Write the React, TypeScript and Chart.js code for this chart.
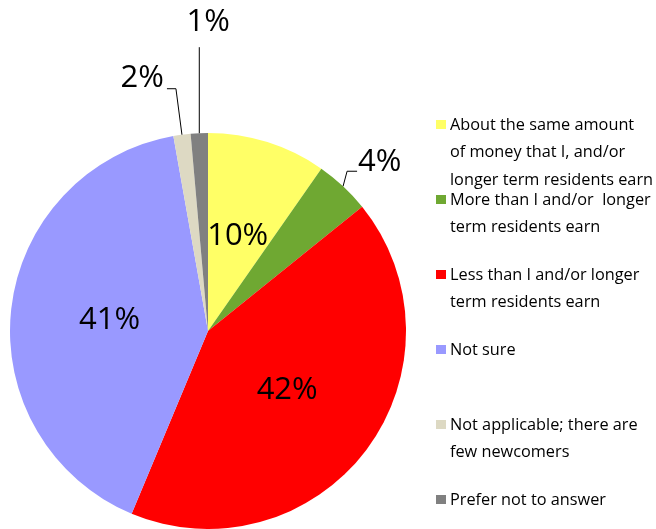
import React, { useEffect, useRef } from "react";
import { Chart, registerables } from "chart.js";

Chart.register(...registerables);

const categories = [
  ["About the same amount", "of money that I, and/or", "longer term residents earn"],
  ["More than I and/or  longer", "term residents earn"],
  ["Less than I and/or longer", "term residents earn"],
  ["Not sure"],
  ["Not applicable; there are", "few newcomers"],
  ["Prefer not to answer"],
];
const values = [9.7, 4.5, 42.1, 40.9, 1.4, 1.4];
const valueLabels = ["10%", "4%", "42%", "41%", "2%", "1%"];
const colors = ["#FFFF66", "#6FA832", "#FF0000", "#9999FF", "#DDD9C3", "#808080"];

const FONT = "'Open Sans', 'Noto Sans', sans-serif";

// label placement style per slice: inside, or outside with leader line offsets
const labelStyle: any[] = [
  { inside: true },
  { inside: false, elbow: [4, -15], end: [14, -15], text: [15, -24], align: "left" },
  { inside: true },
  { inside: true },
  { inside: false, elbow: [-6, -46], end: [-15, -46], text: [-18, -57], align: "right" },
  { inside: false, elbow: [0, -86], end: [0, -86], text: [9, -111], align: "center" },
];

const labelPlugin = {
  id: "sliceLabels",
  afterDatasetsDraw(chart: any) {
    const ctx = chart.ctx;
    const meta = chart.getDatasetMeta(0);
    ctx.save();
    ctx.fillStyle = "#000";
    ctx.font = `500 31px ${FONT}`;
    ctx.textBaseline = "middle";
    meta.data.forEach((arc: any, i: number) => {
      const { x, y, startAngle, endAngle, outerRadius } = arc.getProps(
        ["x", "y", "startAngle", "endAngle", "outerRadius"],
        true
      );
      const mid = (startAngle + endAngle) / 2;
      const st = labelStyle[i];
      if (st.inside) {
        const r = outerRadius * 0.5;
        ctx.textAlign = "center";
        ctx.fillText(valueLabels[i], x + Math.cos(mid) * r, y + Math.sin(mid) * r);
      } else {
        const ex = x + Math.cos(mid) * outerRadius;
        const ey = y + Math.sin(mid) * outerRadius;
        ctx.beginPath();
        ctx.strokeStyle = "#000";
        ctx.lineWidth = 1;
        ctx.moveTo(ex, ey);
        ctx.lineTo(ex + st.elbow[0], ey + st.elbow[1]);
        ctx.lineTo(ex + st.end[0], ey + st.end[1]);
        ctx.stroke();
        ctx.textAlign = st.align;
        ctx.fillText(valueLabels[i], ex + st.text[0], ey + st.text[1]);
      }
    });
    ctx.restore();
  },
};

const legendPlugin = {
  id: "sideLegend",
  afterDraw(chart: any) {
    const ctx = chart.ctx;
    ctx.save();
    ctx.font = `500 16.3px ${FONT}`;
    ctx.textBaseline = "middle";
    ctx.textAlign = "left";
    const x0 = 436;
    const y0 = 125;
    const step = 75;
    const lineH = 27.5;
    categories.forEach((lines, i) => {
      const cy = y0 + i * step;
      ctx.fillStyle = colors[i];
      ctx.fillRect(x0, cy - 5, 10, 9);
      ctx.fillStyle = "#000";
      lines.forEach((t, j) => {
        ctx.fillText(t, x0 + 14, cy + j * lineH);
      });
    });
    ctx.restore();
  },
};

export default function App() {
  const ref = useRef<HTMLCanvasElement>(null);
  useEffect(() => {
    document.body.style.margin = "0";
    const chart = new Chart(ref.current!, {
      type: "pie",
      data: {
        labels: categories.map((c) => c.join(" ")),
        datasets: [
          {
            data: values,
            backgroundColor: colors,
            borderWidth: 0,
          },
        ],
      },
      options: {
        animation: false,
        responsive: false,
        maintainAspectRatio: false,
        layout: { padding: { left: 10, top: 133, right: 250, bottom: 0 } },
        plugins: {
          legend: { display: false },
          tooltip: { enabled: false },
        },
      },
      plugins: [labelPlugin, legendPlugin],
    });
    return () => chart.destroy();
  }, []);
  return (
    <div style={{ position: "absolute", left: 0, top: 0, width: 656, height: 529 }}>
      <canvas ref={ref} width={656} height={529} style={{ width: 656, height: 529 }} />
    </div>
  );
}
